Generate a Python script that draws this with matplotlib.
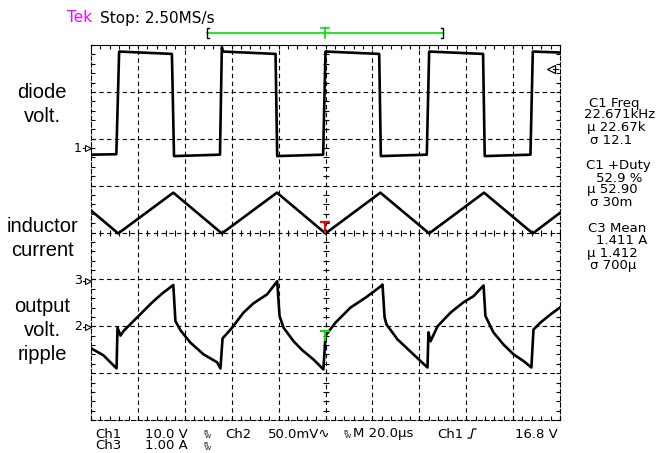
import numpy as np
import matplotlib.pyplot as plt
from matplotlib.ticker import MultipleLocator

# time axis in microseconds (20 us/div, trigger at centre), levels in divisions
ch1_t = [-100, -89.2, -88.0, -65.5, -64.6, -45.0, -44.2, -43.8, -21.3, -20.6,
         -1.0, 0.0, 22.9, 23.6, 43.2, 44.2, 67.2, 67.9, 87.4, 88.4, 100]
ch1_v = [1.66, 1.67, 3.86, 3.81, 1.63, 1.66, 3.95, 3.86, 3.81, 1.63,
         1.66, 3.86, 3.81, 1.63, 1.66, 3.86, 3.81, 1.63, 1.66, 3.86, 3.84]

ch3_t = [-100, -88.4, -64.9, -44.2, -20.7, 0.0, 23.4, 44.2, 67.6, 88.4, 100]
ch3_v = [0.47, -0.02, 0.85, -0.02, 0.85, -0.02, 0.85, -0.02, 0.85, -0.02, 0.42]

ch2_t = [-100, -94.7, -89.1, -88.7, -87.4, -86.1, -80.3, -73.9, -69.6, -64.9,
         -64.0, -61.8, -57.6, -52.0, -46.2, -44.8, -43.9, -39.8, -35.0, -30.7,
         -24.9, -20.6, -19.6, -17.9, -13.6, -9.9, -5.1, -0.9, 0.0, 4.3,
         10.7, 17.1, 23.5, 24.3, 25.2, 26.0, 30.7, 37.5, 43.5, 43.9,
         44.8, 47.8, 53.3, 58.8, 63.1, 67.4, 68.2, 71.6, 75.9, 80.2,
         84.4, 87.8, 88.7, 91.7, 95.9, 100]
ch2_v = [-2.47, -2.62, -2.90, -2.03, -2.20, -2.10, -1.81, -1.49, -1.30, -1.12,
         -1.89, -2.09, -2.35, -2.60, -2.77, -2.90, -2.26, -2.03, -1.71, -1.51,
         -1.32, -1.04, -1.78, -2.03, -2.32, -2.51, -2.71, -2.92, -2.20, -1.92,
         -1.60, -1.39, -1.15, -1.11, -1.81, -1.96, -2.28, -2.60, -2.88, -2.13,
         -2.32, -2.00, -1.71, -1.49, -1.36, -1.13, -1.78, -2.13, -2.39, -2.60,
         -2.74, -2.88, -2.07, -1.92, -1.75, -1.60]

left_labels = [("diode", 92), ("volt.", 117), ("inductor", 226), ("current", 250),
               ("output", 306), ("volt.", 331), ("ripple", 355)]
meas_lines = [("C1 Freq", 589, 103), ("22.671kHz", 584, 115), ("\u00b5 22.67k", 587, 127),
              ("\u03c3 12.1", 590, 140), ("C1 +Duty", 586, 165), ("52.9 %", 596, 178),
              ("\u00b5 52.90", 587, 190), ("\u03c3 30m", 590, 202), ("C3 Mean", 588, 228),
              ("1.411 A", 596, 240), ("\u00b5 1.412", 587, 253), ("\u03c3 700\u00b5", 590, 265)]
# status bar columns (two rows per column)
status_cols = [("Ch1\nCh3", 95), ("10.0 V\n1.00 A", 145)]
status_row1 = [("Ch2", 225), ("50.0mV\u223f", 268), ("M 20.0\u00b5s", 353),
               ("Ch1", 437), ("16.8 V", 515)]

fig = plt.figure(figsize=(6.57, 4.53), dpi=100)

ax = fig.add_axes([91 / 657, 33 / 453, 469 / 657, 375 / 453])
ax.set_xlim(-100, 100)
ax.set_ylim(-4, 4)
dash = (0, (4, 3))
for t in range(-80, 100, 20):
    ax.axvline(t, ls=dash, lw=0.8, color="k")
for y in range(-3, 4):
    ax.axhline(y, ls=dash, lw=0.8, color="k")
# minor ticks on centre lines
ax.plot(np.arange(-100, 101, 4), np.zeros(51), ls="none", marker="|", ms=5, mew=0.8, color="k")
ax.plot(np.zeros(41), np.linspace(-4, 4, 41), ls="none", marker="_", ms=5, mew=0.8, color="k")

ax.xaxis.set_major_locator(MultipleLocator(20))
ax.xaxis.set_minor_locator(MultipleLocator(4))
ax.yaxis.set_major_locator(MultipleLocator(1))
ax.yaxis.set_minor_locator(MultipleLocator(0.2))
ax.tick_params(which="both", direction="in", length=3, width=0.8, top=True, right=True,
               labelbottom=False, labelleft=False)
for s in ax.spines.values():
    s.set_linestyle((0, (4, 2)))
    s.set_linewidth(0.8)
ax.spines["top"].set_linestyle("-")

ax.plot(ch1_t, ch1_v, color="k", lw=1.9)
ax.plot(ch3_t, ch3_v, color="k", lw=1.9)
ax.plot(ch2_t, ch2_v, color="k", lw=1.9)

# overlay in pixel coordinates for the annotations
ov = fig.add_axes([0, 0, 1, 1])
ov.set_xlim(0, 657)
ov.set_ylim(453, 0)
ov.axis("off")

ov.text(67, 18, "Tek", color="#ff00ff", fontsize=11, va="center")
ov.text(100, 18, "Stop: 2.50MS/s", color="k", fontsize=11, va="center")
ov.plot([207, 443], [33, 33], color="#00e000", lw=1.2)
ov.plot([325, 325], [28, 38], color="#00e000", lw=1.2)
ov.plot([321, 329], [28, 28], color="#00e000", lw=1.2)
ov.plot([209, 207, 207, 209], [28, 28, 38, 38], color="k", lw=1)
ov.plot([441, 443, 443, 441], [28, 28, 38, 38], color="k", lw=1)

# trigger markers on the traces
ov.plot([325, 325], [222, 232], color="red", lw=1.5)
ov.plot([321, 329], [222, 222], color="red", lw=1.5)
ov.plot([325, 325], [331, 340], color="#00e000", lw=1.5)
ov.plot([321, 329], [331, 331], color="#00e000", lw=1.5)

# channel ground markers
for lab, y in [("1", 148), ("3", 281), ("2", 327)]:
    ov.text(82, y, lab, fontsize=9, ha="right", va="center")
    ov.plot([83, 88], [y, y], color="k", lw=0.8)
    ov.plot(88, y, marker=">", ms=4, mfc="white", mec="k", mew=0.8)
# trigger level marker
ov.plot(551, 69, marker="<", ms=6, mfc="white", mec="k", mew=0.9)
ov.plot([553, 558], [69, 69], color="k", lw=0.8)

for txt, y in left_labels:
    ov.text(42, y, txt, fontsize=14.5, family="Liberation Sans", ha="center", va="center")

for txt, x, y in meas_lines:
    ov.text(x, y, txt, fontsize=9.5, va="center")

for txt, x in status_cols:
    ov.text(x, 452, txt, fontsize=9.5, va="bottom", linespacing=0.8)
for txt, x in status_row1:
    ov.text(x, 434, txt, fontsize=9.5, va="center")
# bandwidth-limit icons
for x, y in [(205, 434), (345, 434), (205, 446)]:
    ov.text(x, y - 2, "B", fontsize=4.5, ha="center", va="center")
    ov.text(x + 3, y + 2, "W", fontsize=4.5, ha="center", va="center")
# trigger slope icon
ov.plot([468, 471, 473, 476], [438, 438, 429, 429], color="k", lw=0.9)

fig.savefig("out.png", dpi=100)
